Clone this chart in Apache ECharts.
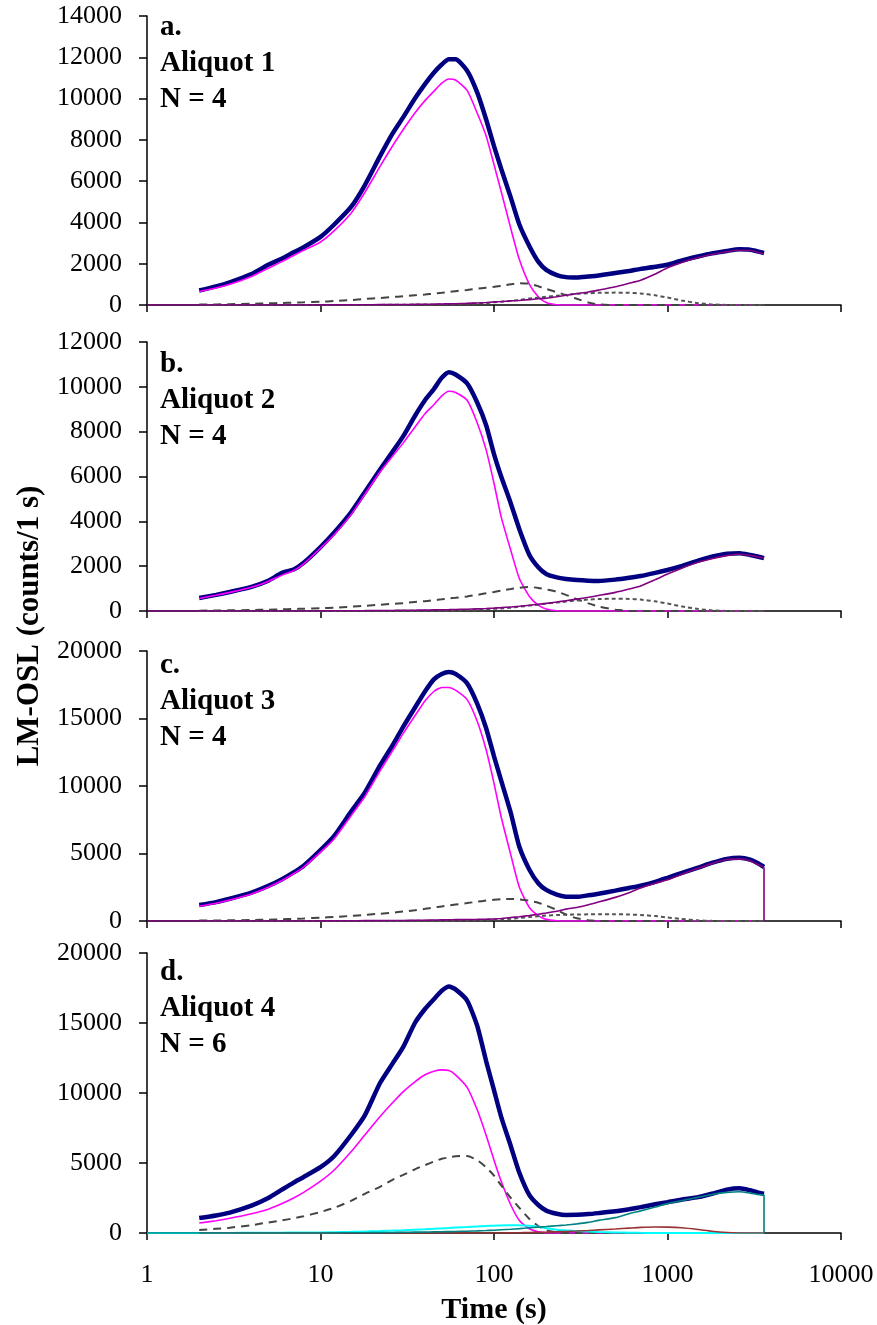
<!DOCTYPE html>
<html>
<head>
<meta charset="utf-8">
<script src="https://cdn.jsdelivr.net/npm/echarts@6/dist/echarts.min.js"></script>
<style>
html, body { margin: 0; padding: 0; background: #fff; }
#main { width: 877px; height: 1325px; }
</style>
</head>
<body>
<div id="main"></div>
<script>
// time (s), shared by every curve; last entry repeats 3600 for the drop to zero
var times = [1, 2, 2.5, 3, 4, 5, 6, 7, 8, 10,
    12, 15, 18, 22, 26, 30, 35, 40, 45, 50,
    55, 60, 70, 80, 90, 100, 110, 125, 140, 160,
    180, 200, 230, 260, 300, 350, 400, 500, 600, 700,
    850, 1000, 1200, 1500, 1800, 2200, 2600, 3000, 3300, 3600,
    3600];

var panelTags = ['a.', 'b.', 'c.', 'd.'];
var aliquots = ['Aliquot 1', 'Aliquot 2', 'Aliquot 3', 'Aliquot 4'];
var nComp = ['N = 4', 'N = 4', 'N = 4', 'N = 6'];

// panel a
var aMeasured = [null, 700, 900, 1100, 1500, 1950, 2250, 2550, 2800, 3300,
    3900, 4750, 5800, 7200, 8300, 9100, 10000, 10700, 11250, 11650,
    11900, 11900, 11350, 10300, 9000, 7700, 6600, 5200, 3900, 2850,
    2100, 1700, 1450, 1350, 1330, 1380, 1430, 1550, 1650, 1750,
    1850, 1950, 2150, 2350, 2500, 2620, 2700, 2680, 2600, 2520,
    null];
var aFast = [null, 650, 820, 1000, 1380, 1780, 2100, 2400, 2650, 3050,
    3600, 4450, 5450, 6700, 7700, 8500, 9300, 9900, 10350, 10750,
    10950, 10900, 10400, 9300, 8200, 6800, 5500, 3700, 2200, 1000,
    400, 120, 10, 0, 0, 0, 0, 0, 0, 0,
    0, 0, 0, 0, 0, 0, 0, 0, 0, 0,
    null];
var aMedium = [null, 20, 30, 40, 60, 80, 100, 115, 130, 160,
    190, 240, 290, 340, 390, 420, 470, 510, 550, 590,
    630, 670, 730, 790, 840, 880, 930, 1000, 1060, 1030,
    910, 780, 620, 480, 300, 120, 30, 0, 0, 0,
    0, 0, 0, 0, 0, 0, 0, 0, 0, 0,
    null];
var aSlow1 = [null, 0, 0, 0, 0, 0, 0, 0, 0, 0,
    0, 0, 0, 5, 10, 15, 20, 25, 30, 35,
    40, 45, 60, 80, 100, 130, 160, 200, 250, 310,
    360, 400, 450, 500, 540, 570, 590, 600, 590, 560,
    470, 360, 220, 90, 30, 5, 0, 0, 0, 0,
    null];
var aSlow2 = [0, 0, 0, 0, 0, 0, 0, 0, 0, 5,
    7, 10, 13, 17, 20, 25, 30, 35, 40, 50,
    55, 60, 80, 100, 120, 150, 170, 200, 220, 260,
    300, 330, 400, 470, 550, 630, 720, 880, 1050, 1200,
    1500, 1800, 2050, 2300, 2450, 2580, 2650, 2640, 2560, 2480,
    null];

// panel b
var bMeasured = [null, 580, 720, 850, 1080, 1350, 1700, 1850, 2150, 2850,
    3500, 4400, 5300, 6300, 7100, 7800, 8700, 9400, 9900, 10400,
    10650, 10550, 10150, 9300, 8300, 7000, 6000, 4800, 3650, 2500,
    1950, 1650, 1500, 1430, 1380, 1350, 1340, 1400, 1480, 1560,
    1700, 1830, 2000, 2250, 2420, 2550, 2580, 2500, 2430, 2360,
    null];
var bFast = [null, 560, 700, 830, 1060, 1320, 1600, 1800, 2100, 2800,
    3400, 4300, 5200, 6200, 6900, 7500, 8200, 8800, 9200, 9600,
    9800, 9750, 9400, 8400, 7200, 5700, 4200, 2700, 1450, 650,
    260, 90, 10, 0, 0, 0, 0, 0, 0, 0,
    0, 0, 0, 0, 0, 0, 0, 0, 0, 0,
    null];
var bMedium = [null, 15, 20, 30, 45, 60, 75, 90, 100, 125,
    150, 190, 230, 280, 320, 350, 400, 440, 480, 520,
    560, 590, 650, 720, 790, 850, 910, 980, 1040, 1070,
    1030, 960, 860, 720, 530, 340, 200, 60, 10, 0,
    0, 0, 0, 0, 0, 0, 0, 0, 0, 0,
    null];
var bSlow1 = [null, 0, 0, 0, 0, 0, 0, 0, 0, 0,
    0, 0, 0, 0, 5, 8, 10, 15, 18, 20,
    25, 30, 45, 60, 75, 95, 115, 150, 190, 240,
    290, 330, 380, 420, 470, 510, 530, 550, 540, 510,
    430, 330, 210, 90, 30, 5, 0, 0, 0, 0,
    null];
var bSlow2 = [0, 0, 0, 0, 0, 0, 0, 0, 0, 5,
    8, 12, 15, 20, 25, 30, 35, 40, 50, 55,
    60, 70, 80, 95, 110, 130, 150, 180, 210, 260,
    300, 340, 400, 460, 530, 610, 690, 830, 980, 1120,
    1400, 1650, 1900, 2170, 2330, 2470, 2530, 2470, 2420, 2360,
    null];

// panel c
var cMeasured = [null, 1185, 1400, 1650, 2100, 2600, 3100, 3600, 4100, 5250,
    6300, 8100, 9500, 11500, 13000, 14400, 15800, 17000, 17900, 18300,
    18450, 18300, 17600, 16100, 14300, 12200, 10400, 8000, 5500, 3800,
    2800, 2300, 1950, 1800, 1790, 1900, 2020, 2250, 2450, 2620,
    2900, 3200, 3550, 3950, 4300, 4600, 4680, 4550, 4300, 4000,
    null];
var cFast = [null, 1100, 1320, 1560, 2000, 2500, 3000, 3500, 4000, 5100,
    6100, 7800, 9200, 11100, 12600, 13900, 15200, 16300, 17000, 17300,
    17300, 17100, 16400, 14800, 12700, 10200, 7700, 4900, 2500, 1000,
    400, 120, 20, 0, 0, 0, 0, 0, 0, 0,
    0, 0, 0, 0, 0, 0, 0, 0, 0, 0,
    null];
var cMedium = [null, 30, 40, 50, 75, 100, 130, 160, 190, 250,
    300, 380, 450, 540, 620, 700, 800, 900, 1000, 1080,
    1150, 1220, 1330, 1430, 1510, 1570, 1610, 1630, 1600, 1500,
    1350, 1150, 820, 480, 200, 60, 10, 0, 0, 0,
    0, 0, 0, 0, 0, 0, 0, 0, 0, 0,
    null];
var cSlow1 = [null, 0, 0, 0, 0, 0, 0, 0, 0, 0,
    0, 0, 0, 0, 5, 8, 10, 12, 15, 20,
    25, 30, 40, 55, 75, 100, 130, 170, 220, 290,
    350, 400, 440, 465, 480, 495, 500, 500, 480, 450,
    370, 260, 150, 50, 10, 0, 0, 0, 0, 0,
    null];
var cSlow2 = [0, 0, 0, 0, 0, 0, 0, 0, 0, 10,
    15, 20, 25, 30, 35, 40, 50, 60, 70, 80,
    90, 100, 110, 120, 135, 150, 190, 260, 320, 410,
    500, 590, 720, 880, 1000, 1200, 1400, 1750, 2100, 2450,
    2800, 3050, 3450, 3900, 4250, 4550, 4600, 4450, 4200, 3930,
    0];

// panel d
var dMeasured = [null, 1070, 1250, 1450, 1950, 2500, 3100, 3600, 4000, 4700,
    5500, 7000, 8400, 10700, 12100, 13300, 15000, 16000, 16700, 17300,
    17600, 17400, 16600, 14800, 12300, 10200, 8300, 6200, 4300, 2700,
    2000, 1600, 1380, 1290, 1300, 1350, 1420, 1550, 1700, 1850,
    2050, 2200, 2380, 2560, 2800, 3100, 3200, 3050, 2900, 2800,
    null];
var dFast = [null, 710, 880, 1050, 1380, 1700, 2100, 2500, 2900, 3700,
    4500, 5800, 7000, 8300, 9300, 10100, 10800, 11300, 11550, 11650,
    11600, 11300, 10400, 8800, 7000, 5200, 3700, 2000, 900, 300,
    80, 10, 0, 0, 0, 0, 0, 0, 0, 0,
    0, 0, 0, 0, 0, 0, 0, 0, 0, 0,
    null];
var dMedium = [null, 210, 300, 380, 560, 750, 900, 1050, 1200, 1500,
    1800, 2300, 2800, 3300, 3800, 4150, 4550, 4850, 5100, 5300,
    5400, 5480, 5500, 5200, 4700, 4100, 3400, 2500, 1800, 1000,
    500, 200, 50, 0, 0, 0, 0, 0, 0, 0,
    0, 0, 0, 0, 0, 0, 0, 0, 0, 0,
    null];
var dSlow1 = [0, 0, 0, 0, 0, 0, 0, 0, 0, 0,
    10, 15, 20, 30, 40, 50, 60, 70, 80, 90,
    100, 110, 130, 150, 175, 200, 230, 270, 310, 370,
    420, 460, 520, 570, 650, 760, 900, 1100, 1380, 1580,
    1850, 2100, 2300, 2550, 2750, 2900, 2950, 2850, 2750, 2700,
    0];
var dSlow2 = [0, 0, 5, 8, 15, 20, 25, 30, 35, 40,
    60, 85, 110, 140, 170, 200, 240, 270, 300, 330,
    360, 390, 430, 470, 500, 520, 540, 550, 550, 510,
    440, 340, 240, 190, 150, 100, 70, 40, 20, 10,
    5, 0, 0, 0, 0, 0, 0, 0, 0, 0,
    null];
var dSlow3 = [null, 0, 0, 0, 0, 0, 0, 0, 0, 0,
    0, 0, 0, 0, 0, 0, 0, 0, 0, 0,
    0, 0, 0, 0, 0, 0, 5, 10, 20, 35,
    50, 65, 90, 110, 140, 180, 220, 290, 350, 400,
    430, 420, 370, 250, 130, 40, 5, 0, 0, 0,
    null];

var yMax = [14000, 12000, 20000, 20000];
var yStep = [2000, 2000, 5000, 5000];

var FONT = '"Liberation Serif", "Times New Roman", serif';
var chart = echarts.init(document.getElementById('main'));

function pairs(vals) {
    var out = [];
    for (var i = 0; i < times.length; i++) {
        if (vals[i] !== null) out.push([times[i], vals[i]]);
    }
    return out;
}

function curve(idx, vals, color, width, dash, z) {
    return {
        type: 'line',
        xAxisIndex: idx,
        yAxisIndex: idx,
        data: pairs(vals),
        symbol: 'none',
        smooth: 0.2,
        z: z,
        lineStyle: {color: color, width: width, type: dash || 'solid'}
    };
}

var gridTops = [16, 342, 651, 953];
var gridHeights = [289, 269, 270, 280];
var labelTops = [10, 347, 648, 955];

var grids = [], xAxes = [], yAxes = [], graphics = [];
for (var i = 0; i < 4; i++) {
    grids.push({
        left: 147, right: 36, top: gridTops[i], height: gridHeights[i],
        outerBoundsMode: 'none'
    });
    xAxes.push({
        type: 'log',
        logBase: 10,
        gridIndex: i,
        min: 1,
        max: 10000,
        axisLine: {lineStyle: {color: '#000', width: 1.5}},
        axisTick: {length: 7, lineStyle: {color: '#000', width: 1.5}},
        splitLine: {show: false},
        axisLabel: {
            show: i === 3,
            fontFamily: FONT,
            fontSize: 26,
            color: '#000',
            margin: 29,
            formatter: function (v) { return String(Math.round(v)); }
        },
        name: i === 3 ? 'Time (s)' : '',
        nameLocation: 'middle',
        nameGap: 62,
        nameTextStyle: {fontFamily: FONT, fontSize: 30, fontWeight: 'bold', color: '#000'}
    });
    yAxes.push({
        type: 'value',
        gridIndex: i,
        min: 0,
        max: yMax[i],
        interval: yStep[i],
        axisLine: {show: true, lineStyle: {color: '#000', width: 1.5}},
        axisTick: {show: true, length: 8, lineStyle: {color: '#000', width: 1.5}},
        splitLine: {show: false},
        axisLabel: {
            fontFamily: FONT,
            fontSize: 26,
            color: '#000',
            margin: 25,
            formatter: function (v) { return String(v); }
        }
    });
    graphics.push({
        type: 'text',
        left: 160,
        top: labelTops[i],
        style: {
            text: panelTags[i] + '\n' + aliquots[i] + '\n' + nComp[i],
            font: 'bold 29px ' + FONT,
            fill: '#000',
            lineHeight: 36
        }
    });
}
graphics.push({
    type: 'text',
    x: 30,
    y: 626,
    rotation: Math.PI / 2,
    style: {
        text: 'LM-OSL (counts/1 s)',
        font: 'bold 31px ' + FONT,
        fill: '#000',
        align: 'center',
        verticalAlign: 'middle'
    }
});

var NAVY = '#000080', MAG = '#ff00ff', DASH = '#444444', DOT = '#555555', PURP = '#800080';

var series = [
    curve(0, aMeasured, NAVY, 4.5, null, 2),
    curve(0, aFast, MAG, 1.6, null, 3),
    curve(0, aMedium, DASH, 2, [8, 6], 3),
    curve(0, aSlow1, DOT, 2, [4, 3], 3),
    curve(0, aSlow2, PURP, 1.6, null, 4),

    curve(1, bMeasured, NAVY, 4.5, null, 2),
    curve(1, bFast, MAG, 1.6, null, 3),
    curve(1, bMedium, DASH, 2, [8, 6], 3),
    curve(1, bSlow1, DOT, 2, [4, 3], 3),
    curve(1, bSlow2, PURP, 1.6, null, 4),

    curve(2, cMeasured, NAVY, 4.5, null, 2),
    curve(2, cFast, MAG, 1.6, null, 3),
    curve(2, cMedium, DASH, 2, [8, 6], 3),
    curve(2, cSlow1, DOT, 2, [4, 3], 3),
    curve(2, cSlow2, PURP, 1.6, null, 4),

    curve(3, dMeasured, NAVY, 4.5, null, 2),
    curve(3, dFast, MAG, 1.6, null, 3),
    curve(3, dMedium, DASH, 2, [8, 6], 3),
    curve(3, dSlow2, '#00ffff', 2, null, 3),
    curve(3, dSlow3, '#993333', 1.6, null, 3),
    curve(3, dSlow1, '#008080', 1.6, null, 4)
];

var option = {
    backgroundColor: '#fff',
    animation: false,
    grid: grids,
    xAxis: xAxes,
    yAxis: yAxes,
    series: series,
    graphic: graphics
};

chart.setOption(option);
</script>
</body>
</html>
